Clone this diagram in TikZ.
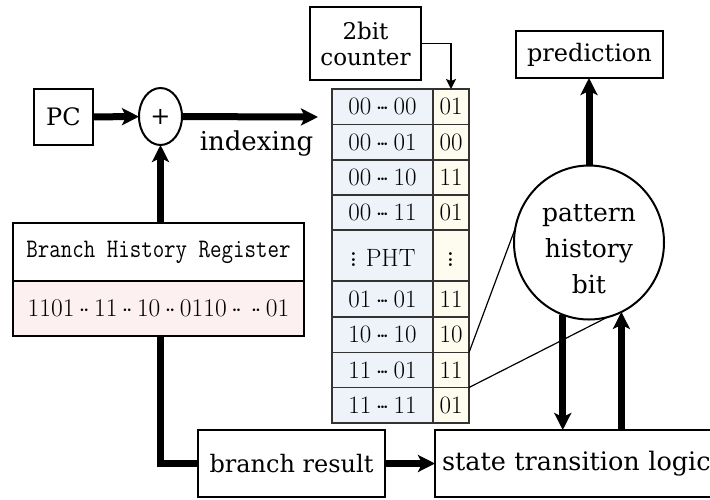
\documentclass[tikz,border=0pt]{standalone}
\usepackage{graphicx}
\usepackage{fontspec}
\newfontfamily\lbl{DejaVu Serif}
\usetikzlibrary{arrows.meta,shapes.geometric}
\definecolor{blueish}{HTML}{EEF3FA}
\definecolor{creamish}{HTML}{FDFCEE}
\definecolor{pinkish}{HTML}{FCF0F0}
\newcommand{\dd}{\,$\mathord{\cdot}\mkern-2mu\mathord{\cdot}$\,}
\newcommand{\tdots}{\,$\mathord{\cdot}\mkern-2.5mu\mathord{\cdot}\mkern-2.5mu\mathord{\cdot}$\,}
\newcommand{\bigvd}{\scalebox{1.4}{$\vdots$}}
\begin{document}
\begin{tikzpicture}[x=1pt,y=-1pt,
  box/.style={draw, line width=2.2pt, inner sep=0pt, outer sep=0pt, font=\lbl\fontsize{24}{28}\selectfont},
  cellL/.style={draw=black!80, line width=1.5pt, fill=blueish, minimum width=101pt, inner sep=0pt, outer sep=0pt, font=\fontsize{25}{28}\selectfont},
  cellR/.style={draw=black!80, line width=1.5pt, fill=creamish, minimum width=36pt, inner sep=0pt, outer sep=0pt, font=\fontsize{25}{28}\selectfont},
  ring/.style={draw, ellipse, line width=2pt, inner sep=0pt, outer sep=0pt},
  bigarrow/.style={line width=7pt, -{Stealth[length=17pt,width=17pt,inset=4pt]}},
  bigline/.style={line width=7pt, line join=miter},
  thinarrow/.style={line width=1.8pt, -{Stealth[length=10pt,width=10pt,inset=2pt]}},
  thinline/.style={line width=1.2pt}
]
\fill[white] (0,0) rectangle (710,499);
\useasboundingbox (0,0) rectangle (710,499);

% nodes
\node[box, minimum width=59pt, minimum height=56pt] (pc) at (63.5,117) {PC};
\node[ring, minimum width=43pt, minimum height=57pt, font=\lbl\fontsize{24}{24}\selectfont] (plus) at (160.5,116.5) {+};
\node[font=\lbl\fontsize{26}{28}\selectfont, anchor=base] (idx) at (256.5,150) {indexing};
\coordinate (idxend) at (318,117);

\node[box, minimum width=111pt, minimum height=73pt, align=center, font=\lbl\fontsize{23}{26}\selectfont] (cnt) at (365.5,43.5) {2bit\\counter};
\node[box, minimum width=147pt, minimum height=47pt] (pred) at (589.5,54.5) {prediction};
\node[ring, minimum width=150pt, minimum height=154pt, align=center, font=\lbl\fontsize{25}{36}\selectfont] (phb) at (589,242.5) {\rule{0pt}{31pt}pattern\\history\\bit};

\node[box, minimum width=291pt, minimum height=58pt, font=\ttfamily\fontsize{22.3}{24}\selectfont] (bhr) at (158.5,252) {\scalebox{1}[1.2]{Branch History Register}};
\node[box, fill=pinkish, minimum width=291pt, minimum height=55pt, font=\fontsize{25.5}{28}\selectfont] (bhrv) at (158.5,308.5) {1101\dd 11\dd 10\dd 0110\dd\dd 01};

\node[box, minimum width=187pt, minimum height=67pt] (br) at (291.5,463.5) {branch result};
\node[box, anchor=west, minimum height=67pt, text width=300pt, inner xsep=7pt, align=left, font=\lbl\fontsize{25.5}{28}\selectfont] (stl) at (435,463.5) {state transition logic};

% table
\foreach \t/\b/\l/\r [count=\i] in {89/124.5/{00\tdots 00}/01, 124.5/160/{00\tdots 01}/00, 160/195/{00\tdots 10}/11, 195/230/{00\tdots 11}/01, 230/281/{\bigvd\ PHT}/{\bigvd}, 281/317/{01\tdots 01}/11, 317/352.5/{10\tdots 10}/10, 352.5/387.5/{11\tdots 01}/11, 387.5/423/{11\tdots 11}/01}
{
  \node[cellL, minimum height={(\b-\t)*1pt}] (L\i) at (382.5,{(\t+\b)/2}) {\l};
  \node[cellR, minimum height={(\b-\t)*1pt}] (R\i) at (451,{(\t+\b)/2}) {\r};
}

% connectors
\draw[bigarrow] (pc) -- (plus);
\draw[bigarrow] (plus) -- (idxend);
\draw[bigarrow] (bhr.north -| plus.south) -- (plus.south);
\draw[bigline] (bhrv.south -| plus.south) |- (br.west);
\draw[bigarrow] (br) -- (stl);
\draw[bigarrow] (phb.north) -- (pred.south -| phb.north);
\draw[bigarrow] (phb.-110) -- (phb.-110 |- stl.north);
\draw[bigarrow] (phb.-65 |- stl.north) -- (phb.-65);
\draw[thinarrow] (cnt.east) -| (R1.north);
\draw[thinline] (R7.south east) -- (phb.169);
\draw[thinline] (R8.south east) -- (phb.-76);
\end{tikzpicture}
\end{document}
